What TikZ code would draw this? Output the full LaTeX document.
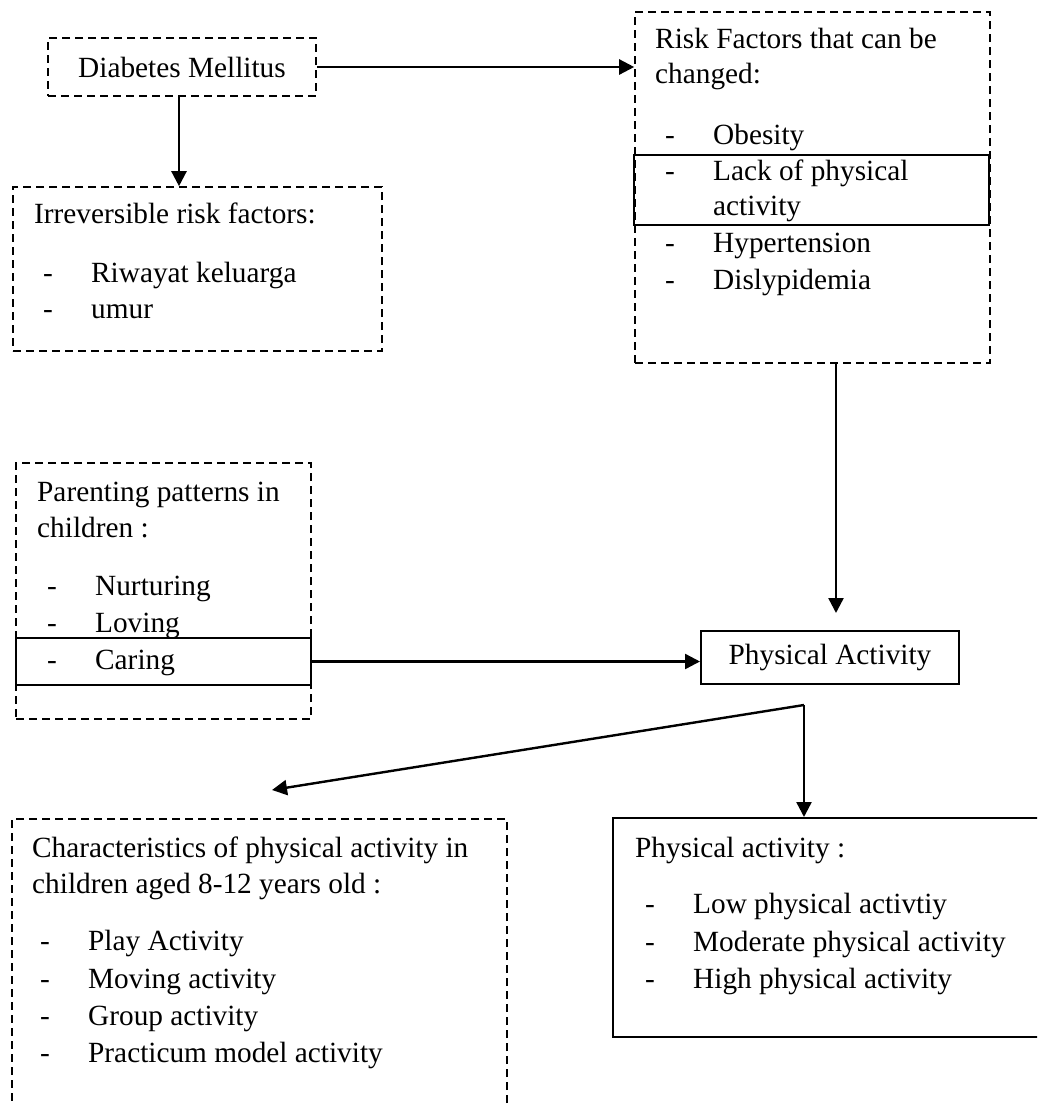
\documentclass[tikz,border=0pt]{standalone}
\usepackage{fontspec}
\setmainfont{Liberation Serif}
\usetikzlibrary{arrows.meta}
\newcommand{\itm}[1]{\makebox[48pt][l]{-}#1}
\begin{document}
\begin{tikzpicture}[x=1pt,y=-1pt,
  font=\fontsize{29.3}{36}\selectfont,
  dbox/.style={draw, line width=1.6pt, dash pattern=on 8pt off 5pt, inner sep=0pt},
  sbox/.style={draw, line width=2pt, inner sep=0pt},
  hbox/.style={draw, line width=2.6pt, inner sep=0pt},
  txt/.style={anchor=base west, inner sep=0pt},
  arr/.style={line width=2.4pt, -{Triangle[length=15pt,width=15pt]}}]
\useasboundingbox (0,0) rectangle (1037,1106);
\clip (0,0) rectangle (1037,1106);

% boxes
\node[dbox, minimum width=268pt, minimum height=58pt] (dm) at (182,67) {Diabetes Mellitus};
\node[dbox, minimum width=369pt, minimum height=164pt] (irr) at (197.5,269) {};
\node[dbox, minimum width=355pt, minimum height=351pt] (rf) at (812.5,187.5) {};
\node[hbox, minimum width=355pt, minimum height=70pt] (rfhl) at (811.5,190) {};
\node[dbox, minimum width=295pt, minimum height=256pt] (par) at (163.5,591) {};
\node[hbox, minimum width=295pt, minimum height=47pt] (parhl) at (163.5,661.5) {};
\node[sbox, minimum width=258pt, minimum height=53pt] (pa) at (830,657.5) {Physical Activity};
\node[dbox, minimum width=495pt, minimum height=400pt] (ch) at (259.5,1019) {};
\node[sbox, minimum width=487pt, minimum height=219pt] (pal) at (856.5,927.5) {};

% texts: irreversible
\node[txt] (irr1) at (34,223) {Irreversible risk factors:};
\node[txt] (irr2) at (43,282) {\itm{Riwayat keluarga}};
\node[txt] (irr3) at (43,318) {\itm{umur}};

% texts: risk factors
\node[txt] (rf1) at (655,48) {Risk Factors that can be};
\node[txt] (rf2) at (655,83) {changed:};
\node[txt] (rf3) at (665,144) {\itm{Obesity}};
\node[txt] (rf4) at (665,180) {\itm{Lack of physical}};
\node[txt] (rf5) at (713,215) {activity};
\node[txt] (rf6) at (665,252) {\itm{Hypertension}};
\node[txt] (rf7) at (665,289) {\itm{Dislypidemia}};

% texts: parenting
\node[txt] (par1) at (37,501) {Parenting patterns in};
\node[txt] (par2) at (37,537) {children :};
\node[txt] (par3) at (47,595) {\itm{Nurturing}};
\node[txt] (par4) at (47,632) {\itm{Loving}};
\node[txt] (par5) at (47,669) {\itm{Caring}};

% texts: characteristics
\node[txt] (ch1) at (32,857) {Characteristics of physical activity in};
\node[txt] (ch2) at (32,893) {children aged 8-12 years old :};
\node[txt] (ch3) at (40,950) {\itm{Play Activity}};
\node[txt] (ch4) at (40,988) {\itm{Moving activity}};
\node[txt] (ch5) at (40,1025) {\itm{Group activity}};
\node[txt] (ch6) at (40,1062) {\itm{Practicum model activity}};

% texts: physical activity levels
\node[txt] (pal1) at (635,857) {Physical activity :};
\node[txt] (pal2) at (645,913) {\itm{Low physical activtiy}};
\node[txt] (pal3) at (645,951) {\itm{Moderate physical activity}};
\node[txt] (pal4) at (645,988) {\itm{High physical activity}};

% connectors
\coordinate (a1) at (836,613);
\coordinate (fork) at (804,705);
\coordinate (chtip) at (272,790);
\draw[arr] (dm.east) -- (dm.east -| rf.west);
\draw[arr] ([xshift=-3pt]dm.south) -- ([xshift=-3pt]dm.south |- irr.north);
\draw[arr] (rf.south -| a1) -- (a1);
\draw[arr] (parhl.east) -- (parhl.east -| pa.west);
\draw[arr] (fork) -- (chtip);
\draw[arr] (fork) -- (fork |- pal.north);
\end{tikzpicture}
\end{document}
